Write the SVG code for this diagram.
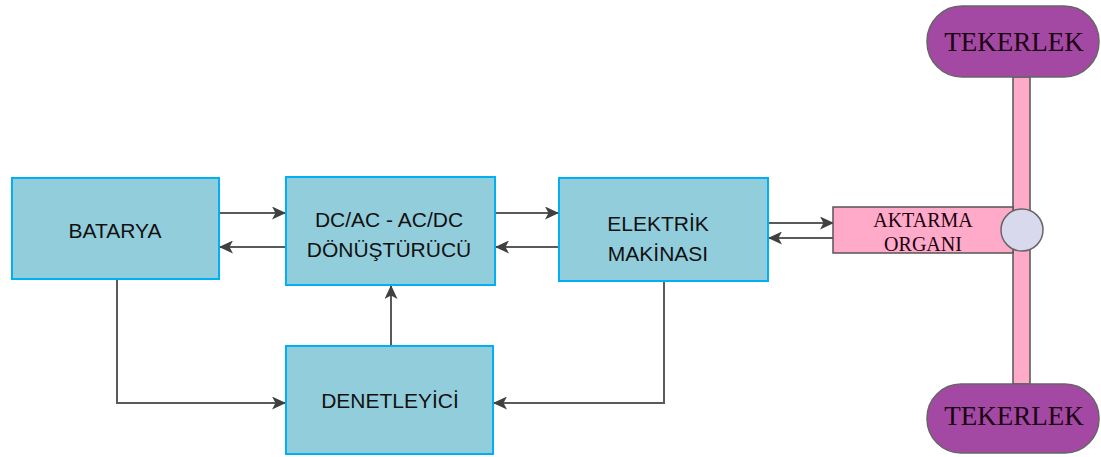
<svg xmlns="http://www.w3.org/2000/svg" width="1101" height="457" viewBox="0 0 1101 457">
<style>
.box{fill:#92cddc;stroke:#00b0f0;stroke-width:2}
.lbl{font-family:"Liberation Sans",Arial,sans-serif;font-size:21px;fill:#111;text-anchor:middle}
.ser{font-family:"Liberation Serif","Times New Roman",serif;fill:#1a0010;text-anchor:middle}
.wheel{fill:#a349a4;stroke:#666;stroke-width:1.5}
.pink{fill:#ffaac8;stroke:#555;stroke-width:1.5}
.ln{fill:none;stroke:#5a5a5a;stroke-width:2;marker-end:url(#ah)}
</style>
<defs>
<marker id="ah" markerUnits="userSpaceOnUse" markerWidth="15" markerHeight="13" refX="14" refY="6.5" orient="auto">
<path d="M0,0 L14,6.5 L0,13 L3.5,6.5 Z" fill="#404040"/>
</marker>
</defs>
<g id="connectors">
<path class="ln" d="M219,213 H286"/>
<path class="ln" d="M286,247 H219"/>
<path class="ln" d="M495,213 H559"/>
<path class="ln" d="M559,247 H495"/>
<path class="ln" d="M768,223 H834"/>
<path class="ln" d="M834,238 H768"/>
<path class="ln" d="M117,279 V403 H286"/>
<path class="ln" d="M391,346 V285"/>
<path class="ln" d="M664,281 V403 H493"/>
</g>
<g id="shaft">
<rect class="pink" x="1013" y="77" width="17" height="307"/>
</g>
<g id="batarya">
<rect class="box" x="12" y="178" width="207" height="101"/>
<text class="lbl" x="115" y="238">BATARYA</text>
</g>
<g id="donusturucu">
<rect class="box" x="286" y="177" width="209" height="108"/>
<text class="lbl" x="389" y="227">DC/AC - AC/DC</text>
<text class="lbl" x="389" y="257">DÖNÜŞTÜRÜCÜ</text>
</g>
<g id="elektrik-makinasi">
<rect class="box" x="559" y="178" width="209" height="103"/>
<text class="lbl" x="658" y="231">ELEKTRİK</text>
<text class="lbl" x="658" y="261">MAKİNASI</text>
</g>
<g id="denetleyici">
<rect class="box" x="286" y="346" width="207" height="108"/>
<text class="lbl" x="390" y="408">DENETLEYİCİ</text>
</g>
<g id="aktarma-organi">
<rect class="pink" x="833" y="207" width="180" height="46"/>
<text class="ser" x="923" y="227" font-size="20">AKTARMA</text>
<text class="ser" x="923" y="251" font-size="20">ORGANI</text>
</g>
<g id="hub">
<circle cx="1022" cy="230" r="21" fill="#d9d9ee" stroke="#666" stroke-width="1.5"/>
</g>
<g id="tekerlek-ust">
<rect class="wheel" x="927" y="6" width="172" height="71" rx="35" ry="35"/>
<text class="ser" x="1014" y="51" font-size="27">TEKERLEK</text>
</g>
<g id="tekerlek-alt">
<rect class="wheel" x="927" y="384" width="172" height="69" rx="34" ry="34"/>
<text class="ser" x="1014" y="425" font-size="27">TEKERLEK</text>
</g>
</svg>
